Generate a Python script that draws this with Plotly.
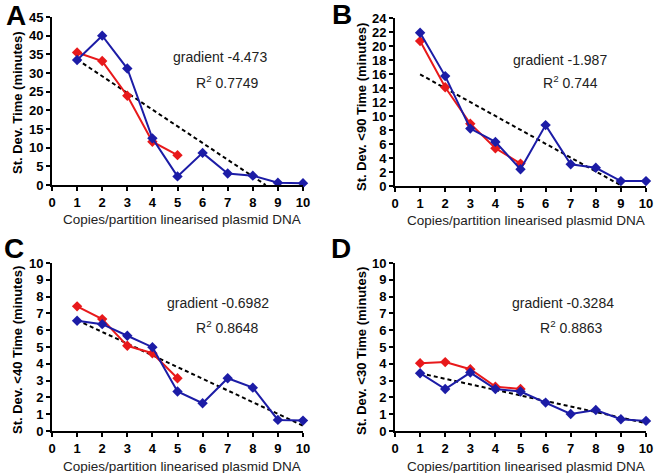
import numpy as np
import plotly.graph_objects as go

copies = [1, 2, 3, 4, 5, 6, 7, 8, 9, 10]
copies_red = [1, 2, 3, 4, 5]

a_blue = [33.5, 40.0, 31.2, 12.5, 2.3, 8.6, 3.1, 2.5, 0.6, 0.5]
a_red = [35.5, 33.2, 23.9, 11.6, 8.0]
b_blue = [21.9, 15.7, 8.2, 6.3, 2.4, 8.7, 3.1, 2.6, 0.7, 0.7]
b_red = [20.7, 14.1, 8.9, 5.4, 3.2]
c_blue = [6.56, 6.36, 5.67, 4.99, 2.35, 1.65, 3.14, 2.58, 0.66, 0.62]
c_red = [7.42, 6.66, 5.07, 4.63, 3.14]
d_blue = [3.44, 2.50, 3.48, 2.50, 2.35, 1.69, 1.01, 1.25, 0.70, 0.60]
d_red = [4.04, 4.10, 3.68, 2.64, 2.50]

panel_letters = ["A", "B", "C", "D"]
y_titles = ["St. Dev. Time (minutes)", "St. Dev. <90 Time (minutes)",
            "St. Dev. <40 Time (minutes)", "St. Dev. <30 Time (minutes)"]
gradient_text = ["gradient -4.473", "gradient -1.987", "gradient -0.6982", "gradient -0.3284"]
r2_text = ["R<sup>2</sup> 0.7749", "R<sup>2</sup> 0.744", "R<sup>2</sup> 0.8648", "R<sup>2</sup> 0.8863"]
y_max = [45, 24, 10, 10]
y_step = [5, 2, 1, 1]
x_title = "Copies/partition linearised plasmid DNA"

W, H = 658, 473
BLUE = "#1c1ca6"
RED = "#e8191b"
FONT = "Arial, Liberation Sans, sans-serif"

# plot areas in pixels: (left, right, top, bottom)
areas = [(52, 303, 17, 185), (395, 646, 18, 186), (52, 303, 263, 431), (395, 646, 263, 431)]
grad_pos = [(220, 57), (560, 60), (218, 303), (563, 303)]
r2_pos = [(227, 82), (570, 82), (227, 327), (571, 327)]
letter_pos = [(16, 15), (342, 14), (14, 249), (341, 249)]
ytitle_pos = [(17, 103), (361, 107), (17, 350), (361, 351)]

blues = [a_blue, b_blue, c_blue, d_blue]
reds = [a_red, b_red, c_red, d_red]


def ann(px, py, text, **kw):
    return dict(x=px / W, y=1 - py / H, xref="paper", yref="paper", text=text,
                showarrow=False, xanchor="center", yanchor="middle", **kw)


fig = go.Figure()
annotations = []
for i in range(4):
    l, r, t, b = areas[i]
    xa = "x" if i == 0 else f"x{i+1}"
    ya = "y" if i == 0 else f"y{i+1}"
    # regression trend of blue data
    slope, icpt = np.polyfit(copies, blues[i], 1)
    x_end = min(10.0, -icpt / slope)
    xs = [1.0, x_end]
    ys = [slope * v + icpt for v in xs]
    fig.add_trace(go.Scatter(x=xs, y=ys, mode="lines", xaxis=xa, yaxis=ya,
                             line=dict(color="black", width=2, dash="4px,3px"),
                             showlegend=False, cliponaxis=False))
    fig.add_trace(go.Scatter(x=copies_red, y=reds[i], mode="lines+markers", xaxis=xa, yaxis=ya,
                             line=dict(color=RED, width=2),
                             marker=dict(symbol="diamond", size=8, color=RED),
                             showlegend=False, cliponaxis=False))
    fig.add_trace(go.Scatter(x=copies, y=blues[i], mode="lines+markers", xaxis=xa, yaxis=ya,
                             line=dict(color=BLUE, width=2),
                             marker=dict(symbol="diamond", size=8, color=BLUE),
                             showlegend=False, cliponaxis=False))
    axcommon = dict(showgrid=False, zeroline=False, showline=True, linecolor="black", linewidth=2,
                    ticks="outside", ticklen=4, tickwidth=2, tickcolor="black", automargin=False,
                    tickfont=dict(family=FONT, size=13, color="black", weight="bold"))
    fig.update_layout(**{
        ("xaxis" if i == 0 else f"xaxis{i+1}"): dict(
            domain=[l / W, r / W], range=[0, 10], tickmode="array",
            tickvals=list(range(0, 11)), anchor=ya, **axcommon),
        ("yaxis" if i == 0 else f"yaxis{i+1}"): dict(
            domain=[1 - b / H, 1 - t / H], range=[0, y_max[i]], tickmode="array",
            tickvals=list(range(0, y_max[i] + 1, y_step[i])), anchor=xa, **axcommon),
    })
    annotations.append(ann(*grad_pos[i], gradient_text[i], font=dict(family=FONT, size=14, color="#222")))
    annotations.append(ann(*r2_pos[i], r2_text[i], font=dict(family=FONT, size=14, color="#222")))
    annotations.append(ann(*letter_pos[i], f"<b>{panel_letters[i]}</b>",
                           font=dict(family=FONT, size=28, color="black")))
    annotations.append(ann(*ytitle_pos[i], f"<b>{y_titles[i]}</b>", textangle=-90,
                           font=dict(family=FONT, size=13, color="black")))
    annotations.append(ann((l + r) / 2 + 5, b + 35, x_title,
                           font=dict(family=FONT, size=13.5, color="#222")))

fig.update_layout(width=W, height=H, margin=dict(l=0, r=0, t=0, b=0, autoexpand=False),
                  paper_bgcolor="white", plot_bgcolor="white", annotations=annotations)
fig.write_html("out.html", config={"displayModeBar": False},
               post_script="document.body.style.margin='0';document.body.style.padding='0';")
